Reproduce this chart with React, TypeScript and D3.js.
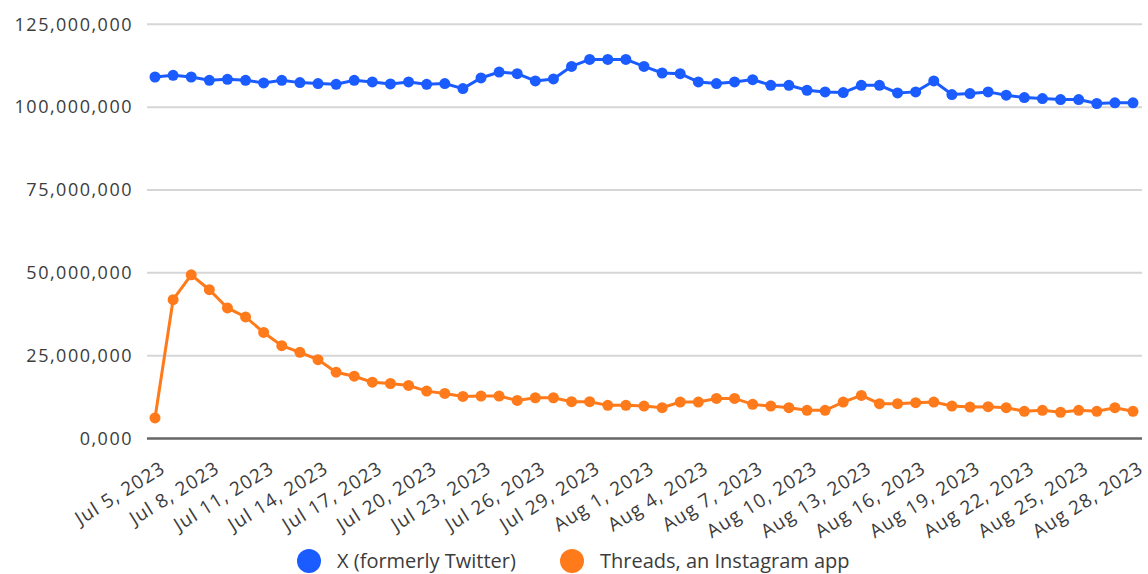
import React, { useEffect, useRef } from "react";
import * as d3 from "d3";

// daily values, Jul 5 2023 .. Aug 28 2023 (55 days), in millions
const startDate = new Date(2023, 6, 5);

const xTwitter = [
    109.1, 109.6, 109.1, 108.1, 108.4, 108.1, 107.3, 108.1, 107.4, 107.1,
    106.9, 108.1, 107.6, 107.0, 107.6, 106.9, 107.1, 105.6, 108.8, 110.6,
    110.1, 107.9, 108.5, 112.3, 114.4, 114.4, 114.4, 112.3, 110.3, 110.1,
    107.6, 107.1, 107.6, 108.3, 106.6, 106.6, 105.1, 104.6, 104.4, 106.6,
    106.6, 104.3, 104.6, 107.9, 103.8, 104.1, 104.6, 103.6, 102.9, 102.6,
    102.3, 102.3, 101.1, 101.3, 101.3,
];

const threads = [
    6.2, 41.9, 49.4, 44.9, 39.4, 36.7, 32.0, 28.0, 26.0, 23.8,
    20.0, 18.8, 17.0, 16.6, 16.0, 14.3, 13.6, 12.7, 12.8, 12.8,
    11.5, 12.3, 12.3, 11.1, 11.1, 10.0, 10.0, 9.8, 9.3, 11.0,
    11.0, 12.1, 12.1, 10.3, 9.8, 9.3, 8.5, 8.5, 11.0, 13.0,
    10.5, 10.5, 10.8, 11.0, 9.8, 9.5, 9.6, 9.3, 8.2, 8.5,
    7.9, 8.5, 8.2, 9.3, 8.2,
];

const yTicks = [0, 25, 50, 75, 100, 125];
const yTickLabels = ["0,000", "25,000,000", "50,000,000", "75,000,000", "100,000,000", "125,000,000"];

const xTickLabels = [
    "Jul 5, 2023", "Jul 8, 2023", "Jul 11, 2023", "Jul 14, 2023", "Jul 17, 2023",
    "Jul 20, 2023", "Jul 23, 2023", "Jul 26, 2023", "Jul 29, 2023", "Aug 1, 2023",
    "Aug 4, 2023", "Aug 7, 2023", "Aug 10, 2023", "Aug 13, 2023", "Aug 16, 2023",
    "Aug 19, 2023", "Aug 22, 2023", "Aug 25, 2023", "Aug 28, 2023",
];

const seriesNames = ["X (formerly Twitter)", "Threads, an Instagram app"];
const seriesColors = ["#1a5cff", "#ff7a1a"];

const App = () => {
    const ref = useRef(null);

    useEffect(() => {
        document.body.style.margin = "0";
        const font = "'Open Sans', sans-serif";

        const svg = d3.select(ref.current);
        svg.selectAll("*").remove();

        const dates = xTwitter.map((_, i) => d3.timeDay.offset(startDate, i));

        const x = d3
            .scaleTime()
            .domain([dates[0], dates[dates.length - 1]])
            .range([155, 1133]);

        const y = d3.scaleLinear().domain([0, 125]).range([438.5, 24.3]);

        // gridlines
        svg.append("g")
            .selectAll("line")
            .data(yTicks.filter((d) => d !== 0))
            .join("line")
            .attr("x1", 147)
            .attr("x2", 1142)
            .attr("y1", (d) => y(d))
            .attr("y2", (d) => y(d))
            .attr("stroke", "#d6d6d6")
            .attr("stroke-width", 2);

        // y labels
        svg.append("g")
            .selectAll("text")
            .data(yTicks)
            .join("text")
            .attr("x", 133)
            .attr("y", (d) => y(d))
            .attr("dy", "0.35em")
            .attr("text-anchor", "end")
            .attr("font-family", font)
            .attr("font-size", 18)
            .attr("letter-spacing", "1.5px")
            .attr("fill", "#3c3c3c")
            .text((d, i) => yTickLabels[i]);

        // baseline
        svg.append("line")
            .attr("x1", 147)
            .attr("x2", 1142)
            .attr("y1", y(0))
            .attr("y2", y(0))
            .attr("stroke", "#666")
            .attr("stroke-width", 2.5);

        // x labels
        const tickDates = xTickLabels.map((_, i) => dates[i * 3]);
        svg.append("g")
            .selectAll("text")
            .data(tickDates)
            .join("text")
            .attr("transform", (d) => `translate(${x(d) + 8},${466}) rotate(-32)`)
            .attr("dy", "0.35em")
            .attr("text-anchor", "end")
            .attr("font-family", font)
            .attr("font-size", 19)
            .attr("letter-spacing", "1px")
            .attr("fill", "#3c3c3c")
            .text((d, i) => xTickLabels[i]);

        // lines + points
        [xTwitter, threads].forEach((values, s) => {
            const line = d3
                .line()
                .x((d, i) => x(dates[i]))
                .y((d) => y(d));
            svg.append("path")
                .datum(values)
                .attr("d", line)
                .attr("fill", "none")
                .attr("stroke", seriesColors[s])
                .attr("stroke-width", 3);
            svg.append("g")
                .selectAll("circle")
                .data(values)
                .join("circle")
                .attr("cx", (d, i) => x(dates[i]))
                .attr("cy", (d) => y(d))
                .attr("r", 5.5)
                .attr("fill", seriesColors[s]);
        });

        // legend
        const legendX = [309, 572];
        const legend = svg
            .append("g")
            .selectAll("g")
            .data(seriesNames)
            .join("g")
            .attr("transform", (d, i) => `translate(${legendX[i]},561)`);
        legend
            .append("circle")
            .attr("r", 12)
            .attr("fill", (d, i) => seriesColors[i]);
        legend
            .append("text")
            .attr("x", 28)
            .attr("dy", "0.35em")
            .attr("font-family", font)
            .attr("font-size", 20)
            .attr("fill", "#3c3c3c")
            .text((d) => d);
    }, []);

    return <svg ref={ref} width={1148} height={574} style={{ display: "block" }}></svg>;
};

export default App;
